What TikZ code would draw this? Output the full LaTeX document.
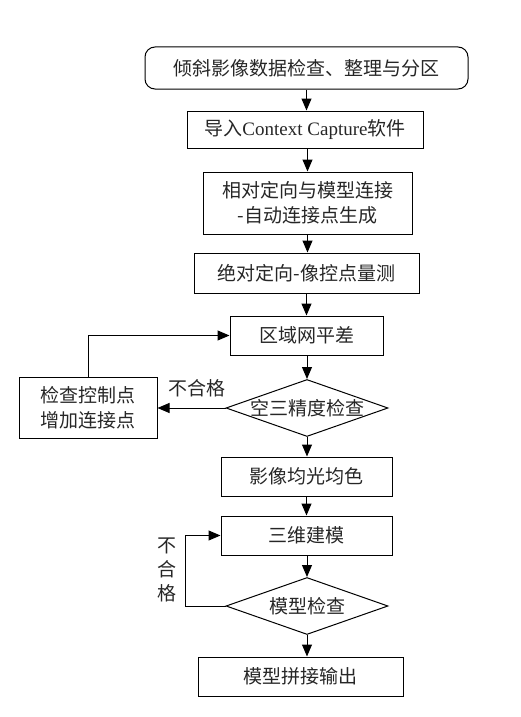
\documentclass[tikz,border=0pt]{standalone}
\usepackage{fontspec}
\setmainfont{Liberation Serif}
\newfontfamily\cjk{Noto Sans CJK SC}
\usetikzlibrary{arrows.meta, shapes.geometric}

\begin{document}
\begin{tikzpicture}[x=1pt, y=-1pt,
    every node/.style={font=\cjk\fontsize{19}{25.5}\selectfont, text=black!85},
    process/.style={draw, line width=1pt, inner sep=0pt, align=center},
    decision/.style={draw, diamond, line width=1pt, aspect=2.84, inner xsep=-3pt, inner ysep=0pt,
        minimum width=162pt, minimum height=57pt},
    flow/.style={line width=1pt, -{Triangle[length=12pt, width=10pt]}}]
    \useasboundingbox (0,0) rectangle (521,717);

    % Main column
    \node[process, rounded corners=10pt, minimum width=323pt, minimum height=42pt] (prep) at (306.5, 68) {倾斜影像数据检查、整理与分区};
    \node[process, minimum width=236pt, minimum height=37pt] (import) at (305, 129.5) {导入{\rmfamily Context Capture}软件};
    \node[process, minimum width=209pt, minimum height=62pt] (relori) at (307.5, 203) {相对定向与模型连接\\-自动连接点生成};
    \node[process, minimum width=225pt, minimum height=40pt] (absori) at (306.5, 273) {绝对定向-像控点量测};
    \node[process, minimum width=153pt, minimum height=39pt] (adjust) at (306.5, 335.5) {区域网平差};
    \node[decision] (aatcheck) at (307, 408) {空三精度检查};
    \node[process, minimum width=171pt, minimum height=39pt] (dodge) at (306.5, 476.5) {影像均光均色};
    \node[process, minimum width=171pt, minimum height=39pt] (model) at (306.5, 535.5) {三维建模};
    \node[decision] (modelcheck) at (307, 606) {模型检查};
    \node[process, minimum width=205pt, minimum height=39pt] (output) at (300.5, 676.5) {模型拼接输出};

    % Side box for the first loop
    \node[process, minimum width=138pt, minimum height=61pt] (fix) at (88, 407.5) {检查控制点\\增加连接点};

    % Downward arrows
    \draw[flow] (prep.south) -- (prep.south |- import.north);
    \draw[flow] (import.south -| relori) -- (relori.north);
    \draw[flow] (relori.south) -- (relori.south |- absori.north);
    \draw[flow] (absori.south) -- (absori.south |- adjust.north);
    \draw[flow] (adjust.south -| aatcheck) -- (aatcheck.north);
    \draw[flow] (aatcheck.south) -- (aatcheck.south |- dodge.north);
    \draw[flow] (dodge.south) -- (dodge.south |- model.north);
    \draw[flow] (model.south -| modelcheck) -- (modelcheck.north);
    \draw[flow] (modelcheck.south) -- (modelcheck.south |- output.north);

    % Failure loops
    \draw[flow] (aatcheck.west) -- (aatcheck.west -| fix.east);
    \node (fail1) at (197, 388) {不合格};
    \draw[flow] (fix.north) |- (adjust.west);
    \draw[flow] (modelcheck.west) -- ++(-40,0) |- (model.west);
    \node[align=center, font=\cjk\fontsize{19}{24}\selectfont] (fail2) at (167, 570) {不\\合\\格};

\end{tikzpicture}
\end{document}
